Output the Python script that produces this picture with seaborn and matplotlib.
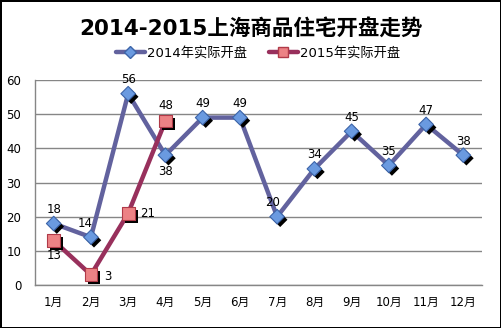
import numpy as np
import pandas as pd
import matplotlib
matplotlib.use("Agg")
import matplotlib.pyplot as plt
import matplotlib.patheffects as pe
from matplotlib.lines import Line2D
import seaborn as sns

months = ["1月", "2月", "3月", "4月", "5月", "6月", "7月", "8月", "9月", "10月", "11月", "12月"]
open_2014 = [18, 14, 56, 38, 49, 49, 20, 34, 45, 35, 47, 38]
open_2015 = [13, 3, 21, 48]
series_names = ["2014年实际开盘", "2015年实际开盘"]
title_text = "2014-2015上海商品住宅开盘走势"

sns.set_style("white")
plt.rcParams["font.family"] = ["DejaVu Sans", "Noto Sans CJK SC"]
plt.rcParams["text.color"] = "black"
plt.rcParams["xtick.color"] = "black"
plt.rcParams["ytick.color"] = "black"

df14 = pd.DataFrame({"pos": np.arange(len(open_2014)), "val": open_2014})
df15 = pd.DataFrame({"pos": np.arange(len(open_2015)), "val": open_2015})

fig = plt.figure(figsize=(5.01, 3.28), dpi=100, linewidth=2, edgecolor="black")
ax = fig.add_axes([0.070, 0.131, 0.892, 0.625])

c14_line = "#62629E"
c14_face = "#6A9AE0"
c14_edge = "#3C64A8"
c15_line = "#98305C"
c15_face = "#EC8285"
c15_edge = "#B03A48"

sns.lineplot(data=df14, x="pos", y="val", ax=ax, color=c14_line, linewidth=3.2, sort=False)
sns.lineplot(data=df15, x="pos", y="val", ax=ax, color=c15_line, linewidth=3.2, sort=False)

shadow = [pe.SimplePatchShadow(offset=(2.2, -2.2), shadow_rgbFace="black", alpha=1.0), pe.Normal()]
sns.scatterplot(data=df14, x="pos", y="val", ax=ax, marker="D", s=55, color=c14_face,
                edgecolor=c14_edge, linewidth=0.8, zorder=4, path_effects=shadow)
sns.scatterplot(data=df15, x="pos", y="val", ax=ax, marker="s", s=85, color=c15_face,
                edgecolor=c15_edge, linewidth=0.8, zorder=5, path_effects=shadow)

# value labels
off14 = {0: (0, 10), 1: (-4, 10), 2: (0, 10), 3: (0, -12), 4: (0, 10), 5: (0, 10),
         6: (-3, 10), 7: (0, 10), 8: (0, 10), 9: (0, 10), 10: (0, 10), 11: (0, 10)}
for i, v in enumerate(open_2014):
    dx, dy = off14[i]
    ax.annotate(str(v), (i, v), xytext=(dx, dy), textcoords="offset points",
                ha="center", va="center", fontsize=8.5, color="black", zorder=6)
off15 = {0: (0, -11), 1: (12, -1), 2: (14, 0), 3: (0, 11)}
for i, v in enumerate(open_2015):
    dx, dy = off15[i]
    ax.annotate(str(v), (i, v), xytext=(dx, dy), textcoords="offset points",
                ha="center", va="center", fontsize=8.5, color="black", zorder=6)

ax.set_xlim(-0.5, len(months) - 0.5)
ax.set_ylim(0, 60)
ax.set_yticks(range(0, 61, 10))
ax.set_xticks(np.arange(len(months)))
ax.set_xticklabels(months)
ax.set_xticks(np.arange(-0.5, len(months), 1), minor=True)
ax.tick_params(axis="x", which="major", length=0, labelsize=8.5, pad=8, labelcolor="black")
ax.tick_params(axis="x", which="minor", length=4, color="#868686", direction="out")
ax.tick_params(axis="y", length=4, color="#868686", labelsize=8.5, direction="out", pad=6,
               labelcolor="black")
ax.set_xlabel("")
ax.set_ylabel("")
ax.grid(axis="y", color="#868686", linewidth=1)
ax.set_axisbelow(True)
for side in ["top", "right"]:
    ax.spines[side].set_visible(False)
for side in ["left", "bottom"]:
    ax.spines[side].set_color("#868686")
    ax.spines[side].set_linewidth(1)

fig.text(0.5, 0.912, title_text, ha="center", va="center", fontsize=15.5, fontweight="bold",
         color="black", family=["DejaVu Sans", "Noto Sans CJK SC"])

handles = [
    Line2D([0], [0], color=c14_line, linewidth=3.2, marker="D", markersize=6,
           markerfacecolor=c14_face, markeredgecolor=c14_edge),
    Line2D([0], [0], color=c15_line, linewidth=3.2, marker="s", markersize=7,
           markerfacecolor=c15_face, markeredgecolor=c15_edge),
]
leg = fig.legend(handles, series_names, loc="center", bbox_to_anchor=(0.515, 0.838), ncol=2,
                 frameon=False, fontsize=9.5, handlelength=2.2, handletextpad=0.2,
                 columnspacing=1.6)
for t in leg.get_texts():
    t.set_color("black")

fig.savefig("out.png", dpi=100, edgecolor=fig.get_edgecolor())
